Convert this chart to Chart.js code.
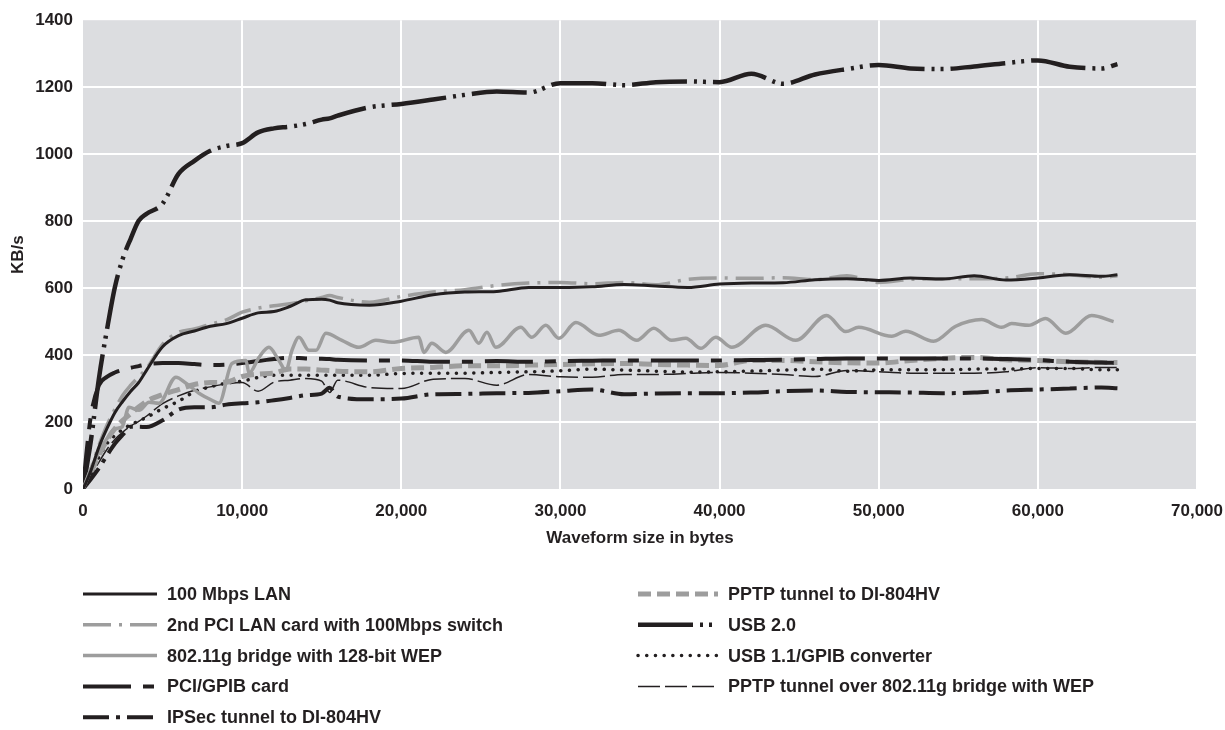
<!DOCTYPE html>
<html>
<head>
<meta charset="utf-8">
<title>Throughput vs waveform size</title>
<script src="https://cdn.jsdelivr.net/npm/chart.js@4.4.1/dist/chart.umd.min.js"></script>
<style>
  html, body { margin: 0; padding: 0; background: #fff; }
  #wrap { width: 1225px; height: 730px; }
</style>
</head>
<body>
<div id="wrap"><canvas id="kbs_chart" width="1225" height="730"></canvas></div>
<script>
// waveform sizes (bytes) shared by most of the series
const sizes = [0, 200, 500, 1000, 1500, 2000, 2500, 3000, 3500, 4000,
    5000, 6000, 7000, 8000, 9000, 10000, 11000, 12000, 13000, 14000, 15000,
    15500, 16000,
    18000, 20000, 22000, 24000, 26000, 28000, 30000, 32000, 34000, 36000, 38000, 40000,
    42000, 44000, 46000, 48000, 50000, 52000, 54000, 56000, 58000, 60000, 62000, 64000,
    65000];

// KB/s per connection type
const lan100 = [0, 20, 55, 125, 180, 228, 262, 292, 318, 355,
    425, 458, 472, 486, 494, 510, 526, 530, 545, 565, 567,
    564, 556,
    549, 561, 580, 588, 590, 602, 602, 604, 611, 606, 602, 612,
    615, 616, 625, 628, 623, 630, 627, 637, 624, 630, 640, 635,
    640];
const pciLan2 = [0, 22, 60, 130, 190, 238, 280, 310, 335, 360,
    432, 468, 478, 492, 505, 528, 540, 547, 553, 562, 572,
    578, 572,
    558, 575, 588, 595, 608, 615, 617, 613, 617, 610, 626, 630,
    629, 631, 625, 637, 617, 626, 628, 628, 630, 643, 640, 632,
    637];
const pciGpib = [0, 100, 220, 310, 335, 348, 356, 362, 367, 372,
    376, 376, 373, 370, 371, 376, 382, 388, 392, 390, 389,
    388, 386,
    384, 384, 380, 380, 382, 380, 382, 383, 384, 384, 384, 384,
    385, 386, 388, 390, 390, 390, 390, 390, 388, 385, 380, 378,
    376];
const ipsec = [0, 12, 30, 62, 100, 135, 162, 186, 186, 185,
    205, 237, 244, 244, 252, 256, 259, 265, 272, 280, 285,
    302, 276,
    268, 270, 283, 284, 286, 287, 292, 297, 283, 285, 286, 286,
    288, 292, 294, 290, 289, 288, 286, 288, 294, 297, 300, 303,
    301];
const pptpDi = [0, 20, 50, 100, 145, 180, 205, 225, 245, 262,
    282, 297, 312, 318, 319, 336, 343, 346, 358, 358, 355,
    354, 352,
    350, 360, 363, 368, 368, 370, 372, 374, 375, 372, 370, 369,
    384, 384, 380, 377, 376, 384, 390, 393, 386, 384, 380, 378,
    378];
const usb20 = [0, 57, 146, 330, 474, 602, 688, 748, 801, 822,
    852, 941, 980, 1010, 1024, 1033, 1065, 1077, 1082, 1090, 1103,
    1107, 1115,
    1140, 1150, 1163, 1177, 1187, 1184, 1212, 1212, 1206, 1215, 1217, 1215,
    1240, 1210, 1238, 1254, 1266, 1256, 1254, 1262, 1272, 1280, 1261, 1256,
    1269];
const usb11 = [0, 18, 50, 95, 135, 160, 178, 192, 203, 214,
    240, 262, 290, 305, 316, 322, 333, 340, 340, 340, 340,
    340, 340,
    340, 345, 346, 346, 348, 350, 353, 358, 355, 352, 349, 350,
    352, 355, 358, 352, 356, 356, 356, 358, 358, 360, 360, 356,
    356];
const pptpWifi = [0, 15, 40, 80, 118, 148, 170, 188, 202, 218,
    255, 278, 295, 305, 314, 318, 292, 319, 325, 330, 322,
    288, 325,
    303, 300, 328, 330, 310, 342, 335, 334, 342, 342, 345, 348,
    346, 342, 336, 354, 350, 346, 346, 346, 350, 362, 360, 363,
    363];

// the 802.11g bridge wobbles a lot, so it gets its own sample points
const wifiSizes = [0, 500, 1000, 1500, 2000, 2450, 2890, 3520, 4150, 4770,
    5840, 6470, 7290, 8100, 8540, 9360, 10240, 10430, 11060, 11680,
    12310, 12750, 13130, 13570, 14200, 14640, 15260, 16270, 17340, 18400,
    19410, 21100, 21420, 21920, 22800, 24250, 24870, 25380, 25940, 27510,
    28200, 29080, 29900, 30970, 32410, 33670, 34800, 35870, 36990, 37880,
    38820, 39760, 40770, 42900, 44790, 46730, 47930, 48740, 50820, 51700,
    53450, 54840, 56470, 57730, 58350, 59420, 60490, 61750, 63380, 64760];
const wifiBridge = [0, 60, 110, 150, 180, 185, 244, 235, 259, 256,
    334, 316, 286, 265, 256, 375, 384, 346, 393, 423,
    384, 354, 414, 453, 414, 414, 465, 444, 423, 444,
    438, 453, 408, 435, 408, 474, 435, 468, 423, 483,
    453, 489, 450, 497, 459, 474, 444, 480, 444, 450,
    420, 453, 423, 489, 444, 518, 470, 483, 456, 471,
    441, 486, 506, 483, 494, 489, 509, 465, 518, 500];

const xTicks = [0, 10000, 20000, 30000, 40000, 50000, 60000, 70000];
const yTicks = [0, 200, 400, 600, 800, 1000, 1200, 1400];

const ink = '#231f20';
const grey = '#9d9d9d';
const fontFamily = '"Liberation Sans", Arial, sans-serif';

function pts(xs, ys) {
    return xs.map((x, i) => ({ x: x, y: ys[i] }));
}

function line(label, data, color, width, dash, cap) {
    return {
        label: label,
        data: data,
        borderColor: color,
        borderWidth: width,
        borderDash: dash || [],
        borderCapStyle: cap || 'butt',
        borderJoinStyle: 'round',
        pointRadius: 0,
        fill: false,
        cubicInterpolationMode: 'monotone'
    };
}

const datasets = [
    line('100 Mbps LAN', pts(sizes, lan100), ink, 3),
    line('2nd PCI LAN card with 100Mbps switch', pts(sizes, pciLan2), grey, 3.5, [28, 8, 3, 8]),
    line('802.11g bridge with 128-bit WEP', pts(wifiSizes, wifiBridge), grey, 3.5),
    line('PCI/GPIB card', pts(sizes, pciGpib), ink, 4, [48, 12, 11, 12]),
    line('IPSec tunnel to DI-804HV', pts(sizes, ipsec), ink, 4, [26, 7, 4, 7]),
    line('PPTP tunnel to DI-804HV', pts(sizes, pptpDi), grey, 5, [13, 6]),
    line('USB 2.0', pts(sizes, usb20), ink, 4.5, [55, 7, 3, 6, 3, 7]),
    line('USB 1.1/GPIB converter', pts(sizes, usb11), ink, 3.5, [0.1, 8.6], 'round'),
    line('PPTP tunnel over 802.11g bridge with WEP', pts(sizes, pptpWifi), ink, 1.5, [22, 5])
];

// grey plot panel behind the grid
const panel = {
    id: 'panel',
    beforeDraw(chart) {
        const a = chart.chartArea, c = chart.ctx;
        c.save();
        c.fillStyle = '#dcdde0';
        c.fillRect(a.left, a.top, a.right - a.left, a.bottom - a.top);
        c.restore();
    }
};

// two-column legend under the chart
const sideLegend = {
    id: 'sideLegend',
    afterDraw(chart) {
        const c = chart.ctx;
        const cols = [{ x0: 83, x1: 157, tx: 167 }, { x0: 638, x1: 718, tx: 728 }];
        c.save();
        c.font = 'bold 18px ' + fontFamily;
        c.textBaseline = 'middle';
        chart.data.datasets.forEach((ds, i) => {
            const col = cols[i < 5 ? 0 : 1];
            const row = i < 5 ? i : i - 5;
            const y = 594 + row * 30.8;
            c.strokeStyle = ds.borderColor;
            c.lineWidth = ds.borderWidth;
            c.lineCap = ds.borderCapStyle;
            c.setLineDash(ds.borderDash);
            c.beginPath();
            c.moveTo(col.x0, y);
            c.lineTo(col.x1, y);
            c.stroke();
            c.setLineDash([]);
            c.fillStyle = ink;
            c.fillText(ds.label, col.tx, y + 1);
        });
        c.restore();
    }
};

const ctx = document.getElementById('kbs_chart').getContext('2d');
new Chart(ctx, {
    type: 'line',
    data: { datasets: datasets },
    plugins: [panel, sideLegend],
    options: {
        responsive: false,
        animation: false,
        devicePixelRatio: 1,
        layout: { padding: { top: 19, right: 28, bottom: 181, left: 0 } },
        plugins: {
            legend: { display: false },
            tooltip: { enabled: false }
        },
        scales: {
            x: {
                type: 'linear',
                min: 0,
                max: 70000,
                afterBuildTicks(axis) { axis.ticks = xTicks.map(v => ({ value: v })); },
                afterFit(axis) {
                    axis.height = 60;
                    axis.paddingLeft = 0;
                    axis.paddingRight = 0;
                },
                border: { display: false },
                grid: {
                    drawTicks: false,
                    lineWidth: 2,
                    color: c => (c.tick && c.tick.value === 0) ? 'rgba(0,0,0,0)' : '#ffffff'
                },
                ticks: {
                    padding: 12,
                    color: ink,
                    maxRotation: 0,
                    font: { family: fontFamily, size: 17, weight: 'bold' },
                    callback: v => v.toLocaleString('en-US')
                },
                title: {
                    display: true,
                    text: 'Waveform size in bytes',
                    color: ink,
                    padding: { top: 0, bottom: 0 },
                    font: { family: fontFamily, size: 17, weight: 'bold' }
                }
            },
            y: {
                min: 0,
                max: 1400,
                afterBuildTicks(axis) { axis.ticks = yTicks.map(v => ({ value: v })); },
                afterFit(axis) { axis.width = 83; },
                border: { display: false },
                grid: {
                    drawTicks: false,
                    lineWidth: 2,
                    color: c => (c.tick && (c.tick.value === 0 || c.tick.value === 1400)) ? 'rgba(0,0,0,0)' : '#ffffff'
                },
                ticks: {
                    padding: 10,
                    color: ink,
                    font: { family: fontFamily, size: 17, weight: 'bold' },
                    callback: v => String(v)
                },
                title: {
                    display: true,
                    text: 'KB/s',
                    color: ink,
                    padding: { top: 8, bottom: 0 },
                    font: { family: fontFamily, size: 17, weight: 'bold' }
                }
            }
        }
    }
});
</script>
</body>
</html>
